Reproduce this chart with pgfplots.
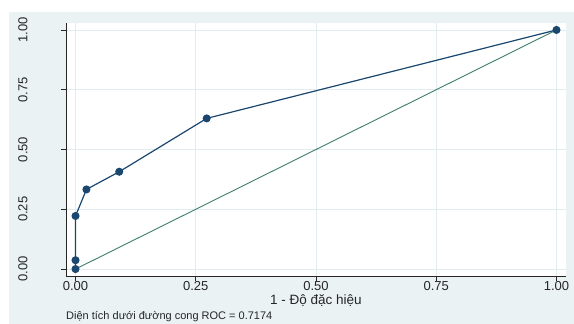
\documentclass[border=0pt]{standalone}
\usepackage{pgfplots}
\pgfplotsset{compat=1.18}
\usepackage{fontspec}
\setmainfont{Liberation Sans}
\definecolor{bgc}{HTML}{EAF2F3}
\definecolor{navyc}{HTML}{1A476F}
\definecolor{tealc}{HTML}{3B7F6E}
\definecolor{gridc}{HTML}{E1ECEE}
\begin{document}
\begin{tikzpicture}[x=1pt,y=1pt]
\useasboundingbox (0,0) rectangle (574,324);
\fill[bgc] (9,0) rectangle (574,312);
\begin{axis}[
  at={(66pt,48pt)}, anchor=south west,
  scale only axis, width=500pt, height=253pt,
  xmin=-0.0198, xmax=1.0198, ymin=-0.029, ymax=1.029,
  axis background/.style={fill=white},
  axis x line*=bottom, axis y line*=left,
  axis line style={black!85, line width=0.8pt, -},
  tick align=outside, major tick length=5pt,
  tick style={black!85, line width=0.8pt},
  xtick={0,0.25,0.5,0.75,1}, xticklabels={0.00,0.25,0.50,0.75,1.00},
  ytick={0,0.25,0.5,0.75,1}, yticklabels={0.00,0.25,0.50,0.75,1.00},
  grid=major, grid style={gridc, line width=0.8pt},
  /pgf/number format/assume math mode=true,
  ticklabel style={font=\fontsize{13}{15}\selectfont, text=black!85},
  xticklabel style={anchor=center, yshift=-5pt},
  yticklabel style={rotate=90, anchor=center, yshift=38pt},
  xlabel={1 - Độ đặc hiệu},
  x label style={at={(axis description cs:0.5,0)}, anchor=center, yshift=-24.5pt, font=\fontsize{13.5}{15}\selectfont, text=black!85},
  clip=false,
]
\addplot[tealc, line width=0.9pt] coordinates {(0,0) (1,1)};
\addplot[navyc, line width=1.2pt, mark=*, mark size=3.4pt, mark options={fill=navyc, draw=navyc}] coordinates {
 (0,0) (0,0.037) (0,0.222) (0.0227,0.333) (0.0909,0.407) (0.2727,0.630) (1,1)};
\end{axis}
\node[anchor=west, font=\fontsize{11}{13}\selectfont, text=black!85, inner sep=0pt] at (66,7) {Diện tích dưới đường cong ROC = 0.7174};
\end{tikzpicture}
\end{document}
